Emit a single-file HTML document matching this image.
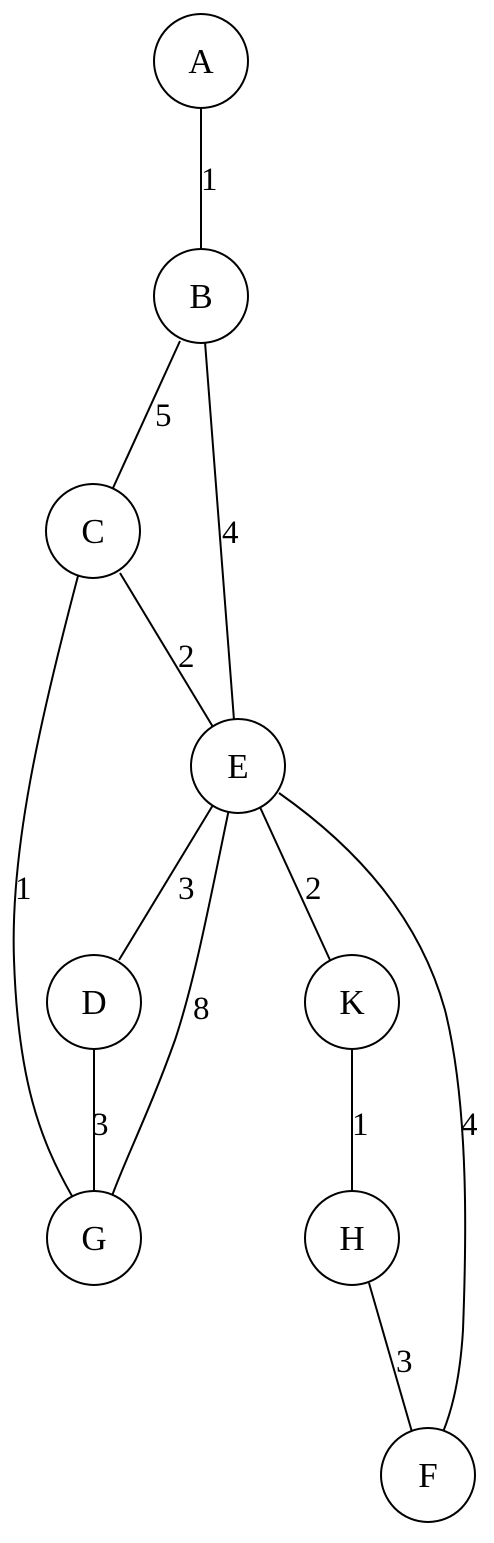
<!DOCTYPE html>
<html><head><style>html,body{margin:0;padding:0;background:#fff}</style></head><body>
<svg width="494" height="1538" viewBox="0 0 494 1538" xmlns="http://www.w3.org/2000/svg">
<g fill="none" stroke="#000" stroke-width="2">
<line x1="201" y1="106" x2="201" y2="251"/>
<line x1="180" y1="341" x2="113" y2="488"/>
<line x1="205" y1="342" x2="234" y2="720"/>
<line x1="120" y1="573" x2="213" y2="727"/>
<line x1="213" y1="805" x2="119" y2="960"/>
<line x1="259" y1="805" x2="330" y2="960"/>
<line x1="94" y1="1046" x2="94" y2="1192"/>
<line x1="352" y1="1046" x2="352" y2="1192"/>
<line x1="369" y1="1283" x2="412" y2="1432"/>
<path d="M78,576 C40,720 10,850 14,960 C18,1080 40,1140 72,1196"/>
<path d="M229,809 C210,900 195,980 175,1040 C150,1110 125,1160 112,1196"/>
<path d="M279,793 C360,850 420,920 445,1010 C470,1110 466,1250 463,1330 C460,1380 452,1410 443,1432"/>
</g>
<g fill="#fff" stroke="#000" stroke-width="2">
<circle cx="201" cy="61" r="47"/>
<circle cx="201" cy="296" r="47"/>
<circle cx="93" cy="531" r="47"/>
<circle cx="238" cy="766" r="47"/>
<circle cx="94" cy="1002" r="47"/>
<circle cx="352" cy="1002" r="47"/>
<circle cx="94" cy="1238" r="47"/>
<circle cx="352" cy="1238" r="47"/>
<circle cx="428" cy="1475" r="47"/>
</g>
<g text-anchor="middle" font-family="Liberation Serif, serif" style="font-size:35px">
<text x="201" y="73">A</text>
<text x="201" y="308">B</text>
<text x="93" y="543">C</text>
<text x="238" y="778">E</text>
<text x="94" y="1014">D</text>
<text x="352" y="1014">K</text>
<text x="94" y="1250">G</text>
<text x="352" y="1250">H</text>
<text x="428" y="1487">F</text>
</g>
<g font-family="Liberation Serif, serif" style="font-size:33px">
<text x="201" y="190">1</text>
<text x="155" y="426">5</text>
<text x="222" y="543">4</text>
<text x="178" y="667">2</text>
<text x="178" y="899">3</text>
<text x="305" y="899">2</text>
<text x="15" y="899">1</text>
<text x="193" y="1019">8</text>
<text x="92" y="1135">3</text>
<text x="352" y="1135">1</text>
<text x="461" y="1135">4</text>
<text x="396" y="1372">3</text>
</g>
</svg>
</body></html>
